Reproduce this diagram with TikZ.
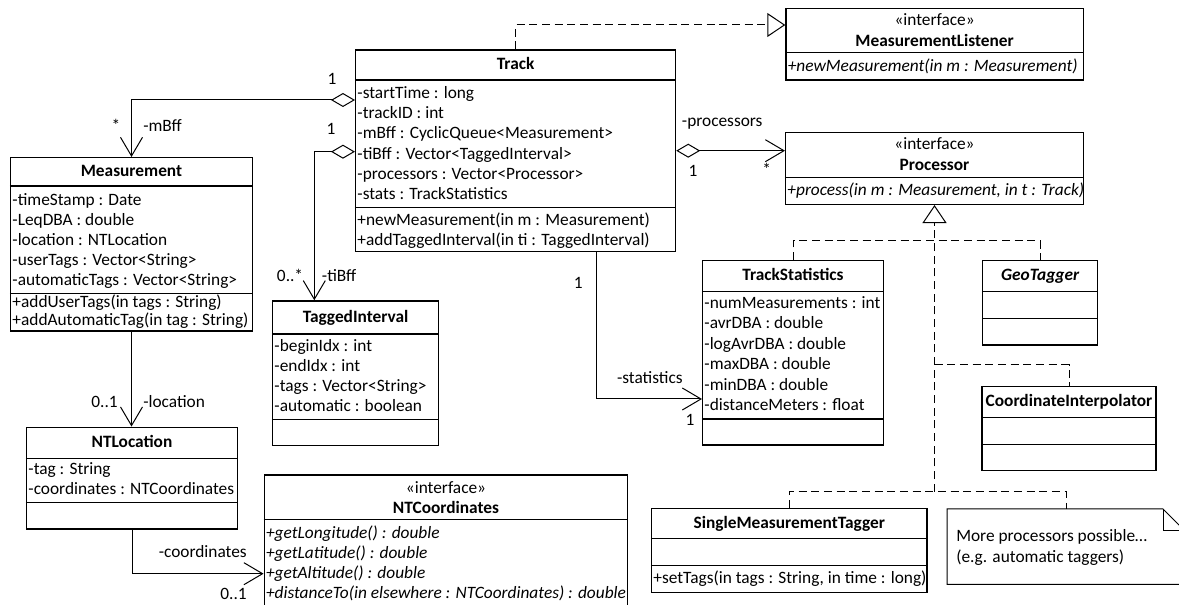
\documentclass[tikz,border=0pt]{standalone}
\usepackage{fontspec}
\setmainfont{Carlito}
\usetikzlibrary{arrows.meta,fit}
\newcommand\fz{\fontsize{13}{15}\selectfont}
\newcommand\hsep[2]{\draw[csep] (#1.west |- 0,#2) -- (#1.east |- 0,#2);}
\newcommand\tlines[6][]{\foreach \t [count=\i] in {#6} {\node[txt,#1] (#2\i) at ({#3},{#4+(\i-1)*#5}) {\t};}}
\begin{document}
\begin{tikzpicture}[x=0.75pt,y=-0.75pt,
  box/.style={draw, line width=1.1pt, inner sep=0pt},
  csep/.style={line width=1.1pt},
  txt/.style={inner sep=0pt, font=\fz, anchor=base west},
  ital/.style={font=\fz\itshape},
  ttl/.style={inner sep=0pt, font=\fz\bfseries, anchor=base},
  lbl/.style={inner sep=0pt, font=\fz, anchor=base},
  conn/.style={line width=0.75pt},
  dsh/.style={line width=0.75pt, dash pattern=on 6pt off 3.5pt},
  barb/.style={-{Straight Barb[length=14pt,width=16.5pt]}},
  agg/.style={{Diamond[open,length=18pt,width=10.5pt]}-{Straight Barb[length=14pt,width=16.5pt]}},
  gen/.style={-{Triangle[open,length=13.5pt,width=18pt]}}
]
\useasboundingbox (0,0) rectangle (1179,605);
\clip (0,0) rectangle (1179,605);

% MeasurementListener
\node[box, fit={(786,8.3) (1083.3,80)}] (ml) {};
\hsep{ml}{52.6}
\node[lbl] (ml-st) at (ml.north |- 0,25.5) {«interface»};
\node[ttl] (ml-t) at (ml.north |- 0,46.5) {MeasurementListener};
\tlines[ital]{ml-m}{787.5}{71.5}{20}{+newMeasurement(in m : Measurement)}

% Processor
\node[box, fit={(785.7,132.7) (1083.3,204.3)}] (proc) {};
\hsep{proc}{177.3}
\node[lbl] (proc-st) at (proc.north |- 0,150) {«interface»};
\node[ttl] (proc-t) at (proc.north |- 0,171) {Processor};
\tlines[ital]{proc-m}{787.2}{196}{20}{{+process(in m : Measurement, in t : Track)}}

% Track
\node[box, fit={(355.7,50) (675.5,251.7)}] (trk) {};
\hsep{trk}{80}
\hsep{trk}{207.7}
\node[ttl] (trk-t) at (trk.north |- 0,70) {Track};
\tlines{trk-a}{357.2}{98.3}{20.3}{-startTime : long, -trackID : int, -mBff : CyclicQueue<Measurement>, -tiBff : Vector<TaggedInterval>, -processors : Vector<Processor>, -stats : TrackStatistics}
\tlines{trk-m}{357.2}{226}{20}{+newMeasurement(in m : Measurement), +addTaggedInterval(in ti : TaggedInterval)}

% Measurement
\node[box, fit={(10.7,157.7) (252.3,331)}] (meas) {};
\hsep{meas}{186}
\hsep{meas}{293.3}
\node[ttl] (meas-t) at (meas.north |- 0,176.5) {Measurement};
\tlines{meas-a}{12.2}{206}{20}{-timeStamp : Date, -LeqDBA : double, -location : NTLocation, -userTags : Vector<String>, -automaticTags : Vector<String>}
\tlines{meas-m}{12.2}{308}{18}{+addUserTags(in tags : String), +addAutomaticTag(in tag : String)}

% TaggedInterval
\node[box, fit={(272.7,301) (438.5,445.7)}] (ti) {};
\hsep{ti}{334}
\hsep{ti}{419.3}
\node[ttl] (ti-t) at (ti.north |- 0,323) {TaggedInterval};
\tlines{ti-a}{274.2}{351.7}{20}{-beginIdx : int, -endIdx : int, -tags : Vector<String>, -automatic : boolean}

% NTLocation
\node[box, fit={(26.7,427.3) (237.3,529)}] (ntl) {};
\hsep{ntl}{458.3}
\hsep{ntl}{502.3}
\node[ttl] (ntl-t) at (ntl.north |- 0,447.5) {NTLocation};
\tlines{ntl-a}{28.2}{475}{20}{-tag : String, -coordinates : NTCoordinates}

% NTCoordinates
\node[box, fit={(264.3,475) (627.7,612)}] (ntc) {};
\hsep{ntc}{519.3}
\node[lbl] (ntc-st) at (ntc.north |- 0,494) {«interface»};
\node[ttl] (ntc-t) at (ntc.north |- 0,514) {NTCoordinates};
\tlines[ital]{ntc-m}{265.8}{538.3}{20}{+getLongitude() : double, +getLatitude() : double, +getAltitude() : double, +distanceTo(in elsewhere : NTCoordinates) : double}

% TrackStatistics
\node[box, fit={(702.7,260.7) (883.3,445)}] (ts) {};
\hsep{ts}{291.7}
\hsep{ts}{419}
\node[ttl] (ts-t) at (ts.north |- 0,281) {TrackStatistics};
\tlines{ts-a}{704.2}{308.3}{20.5}{-numMeasurements : int, -avrDBA : double, -logAvrDBA : double, -maxDBA : double, -minDBA : double, -distanceMeters : float}

% GeoTagger
\node[box, fit={(982.7,260.7) (1097.7,345)}] (geo) {};
\hsep{geo}{291.5}
\hsep{geo}{318.3}
\node[ttl, font=\fz\bfseries\itshape] (geo-t) at (geo.north |- 0,281) {GeoTagger};

% CoordinateInterpolator
\node[box, fit={(982.2,386.7) (1155.8,470.7)}] (ci) {};
\hsep{ci}{417.3}
\hsep{ci}{444.3}
\node[ttl] (ci-t) at (ci.north |- 0,407) {CoordinateInterpolator};

% SingleMeasurementTagger
\node[box, fit={(651.7,508.5) (926.8,592.3)}] (smt) {};
\hsep{smt}{538.5}
\hsep{smt}{565.7}
\node[ttl] (smt-t) at (smt.north |- 0,529) {SingleMeasurementTagger};
\tlines{smt-m}{653.2}{584}{20}{{+setTags(in tags : String, in time : long)}}

% Note
\draw[conn] (947,509) -- (1163,509) -- (1185,531) -- (1185,584.3) -- (947,584.3) -- cycle;
\draw[conn] (1163,509) -- (1163,531) -- (1185,531);
\coordinate (note-top) at (1066,509);
\node[txt] (note-1) at (956,542) {More processors possible…};
\node[txt] (note-2) at (956,563) {(e.g. automatic taggers)};

% Connectors
\coordinate (ml-in) at (ml.west |- 0,25);
\draw[dsh, gen] (trk.north) |- (ml-in);

\draw[conn, agg] (trk.west |- 0,100) -| (meas.north);
\coordinate (ti-in) at (ti.north -| 314.3,0);
\draw[conn, agg] (trk.west |- 0,151.7) -| (ti-in);
\coordinate (proc-in) at (proc.west |- 0,150.7);
\draw[conn, agg] (trk.east |- 0,150.7) -- (proc-in);
\coordinate (trk-out) at (trk.south -| 596,0);
\coordinate (ts-in) at (ts.west |- 0,399);
\draw[conn, barb] (trk-out) |- (ts-in);
\draw[conn, barb] (meas.south) -- (meas.south |- ntl.north);
\coordinate (ntc-in) at (ntc.west |- 0,573.7);
\draw[conn, barb] (ntl.south) |- (ntc-in);

\coordinate (spine) at (proc.south |- 0,491.7);
\draw[dsh, gen] (spine) -- (proc.south);
\draw[dsh] (ts.north) -- ++(0,-19) -| (geo.north);
\coordinate (j2) at (proc.south |- 0,365);
\draw[dsh] (j2) -| (ci.north);
\draw[dsh] (smt.north) |- (spine) -| (note-top);

% Labels
\node[lbl] (l-m1) at (332,84.5) {1};
\node[lbl] (l-m2) at (331,135) {1};
\node[lbl] (l-ms) at (116,132) {*};
\node[lbl, anchor=base west] (l-mbff) at (143,131.7) {-mBff};
\node[lbl, anchor=base west] (l-tis) at (276.7,281.5) {0..*};
\node[lbl, anchor=base west] (l-tibff) at (321.7,281.5) {-tiBff};
\node[lbl, anchor=base west] (l-proc) at (681.7,127) {-processors};
\node[lbl] (l-p1) at (693,176.5) {1};
\node[lbl] (l-ps) at (766.7,176) {*};
\node[lbl] (l-s1) at (578.3,288.5) {1};
\node[lbl, anchor=base east] (l-stat) at (683,383.5) {-statistics};
\node[lbl] (l-s2) at (690,425.5) {1};
\node[lbl, anchor=base east] (l-l01) at (118,407.5) {0..1};
\node[lbl, anchor=base west] (l-loc) at (143,407.5) {-location};
\node[lbl, anchor=base east] (l-coord) at (247,558) {-coordinates};
\node[lbl, anchor=base east] (l-c01) at (247,600) {0..1};
\end{tikzpicture}
\end{document}
